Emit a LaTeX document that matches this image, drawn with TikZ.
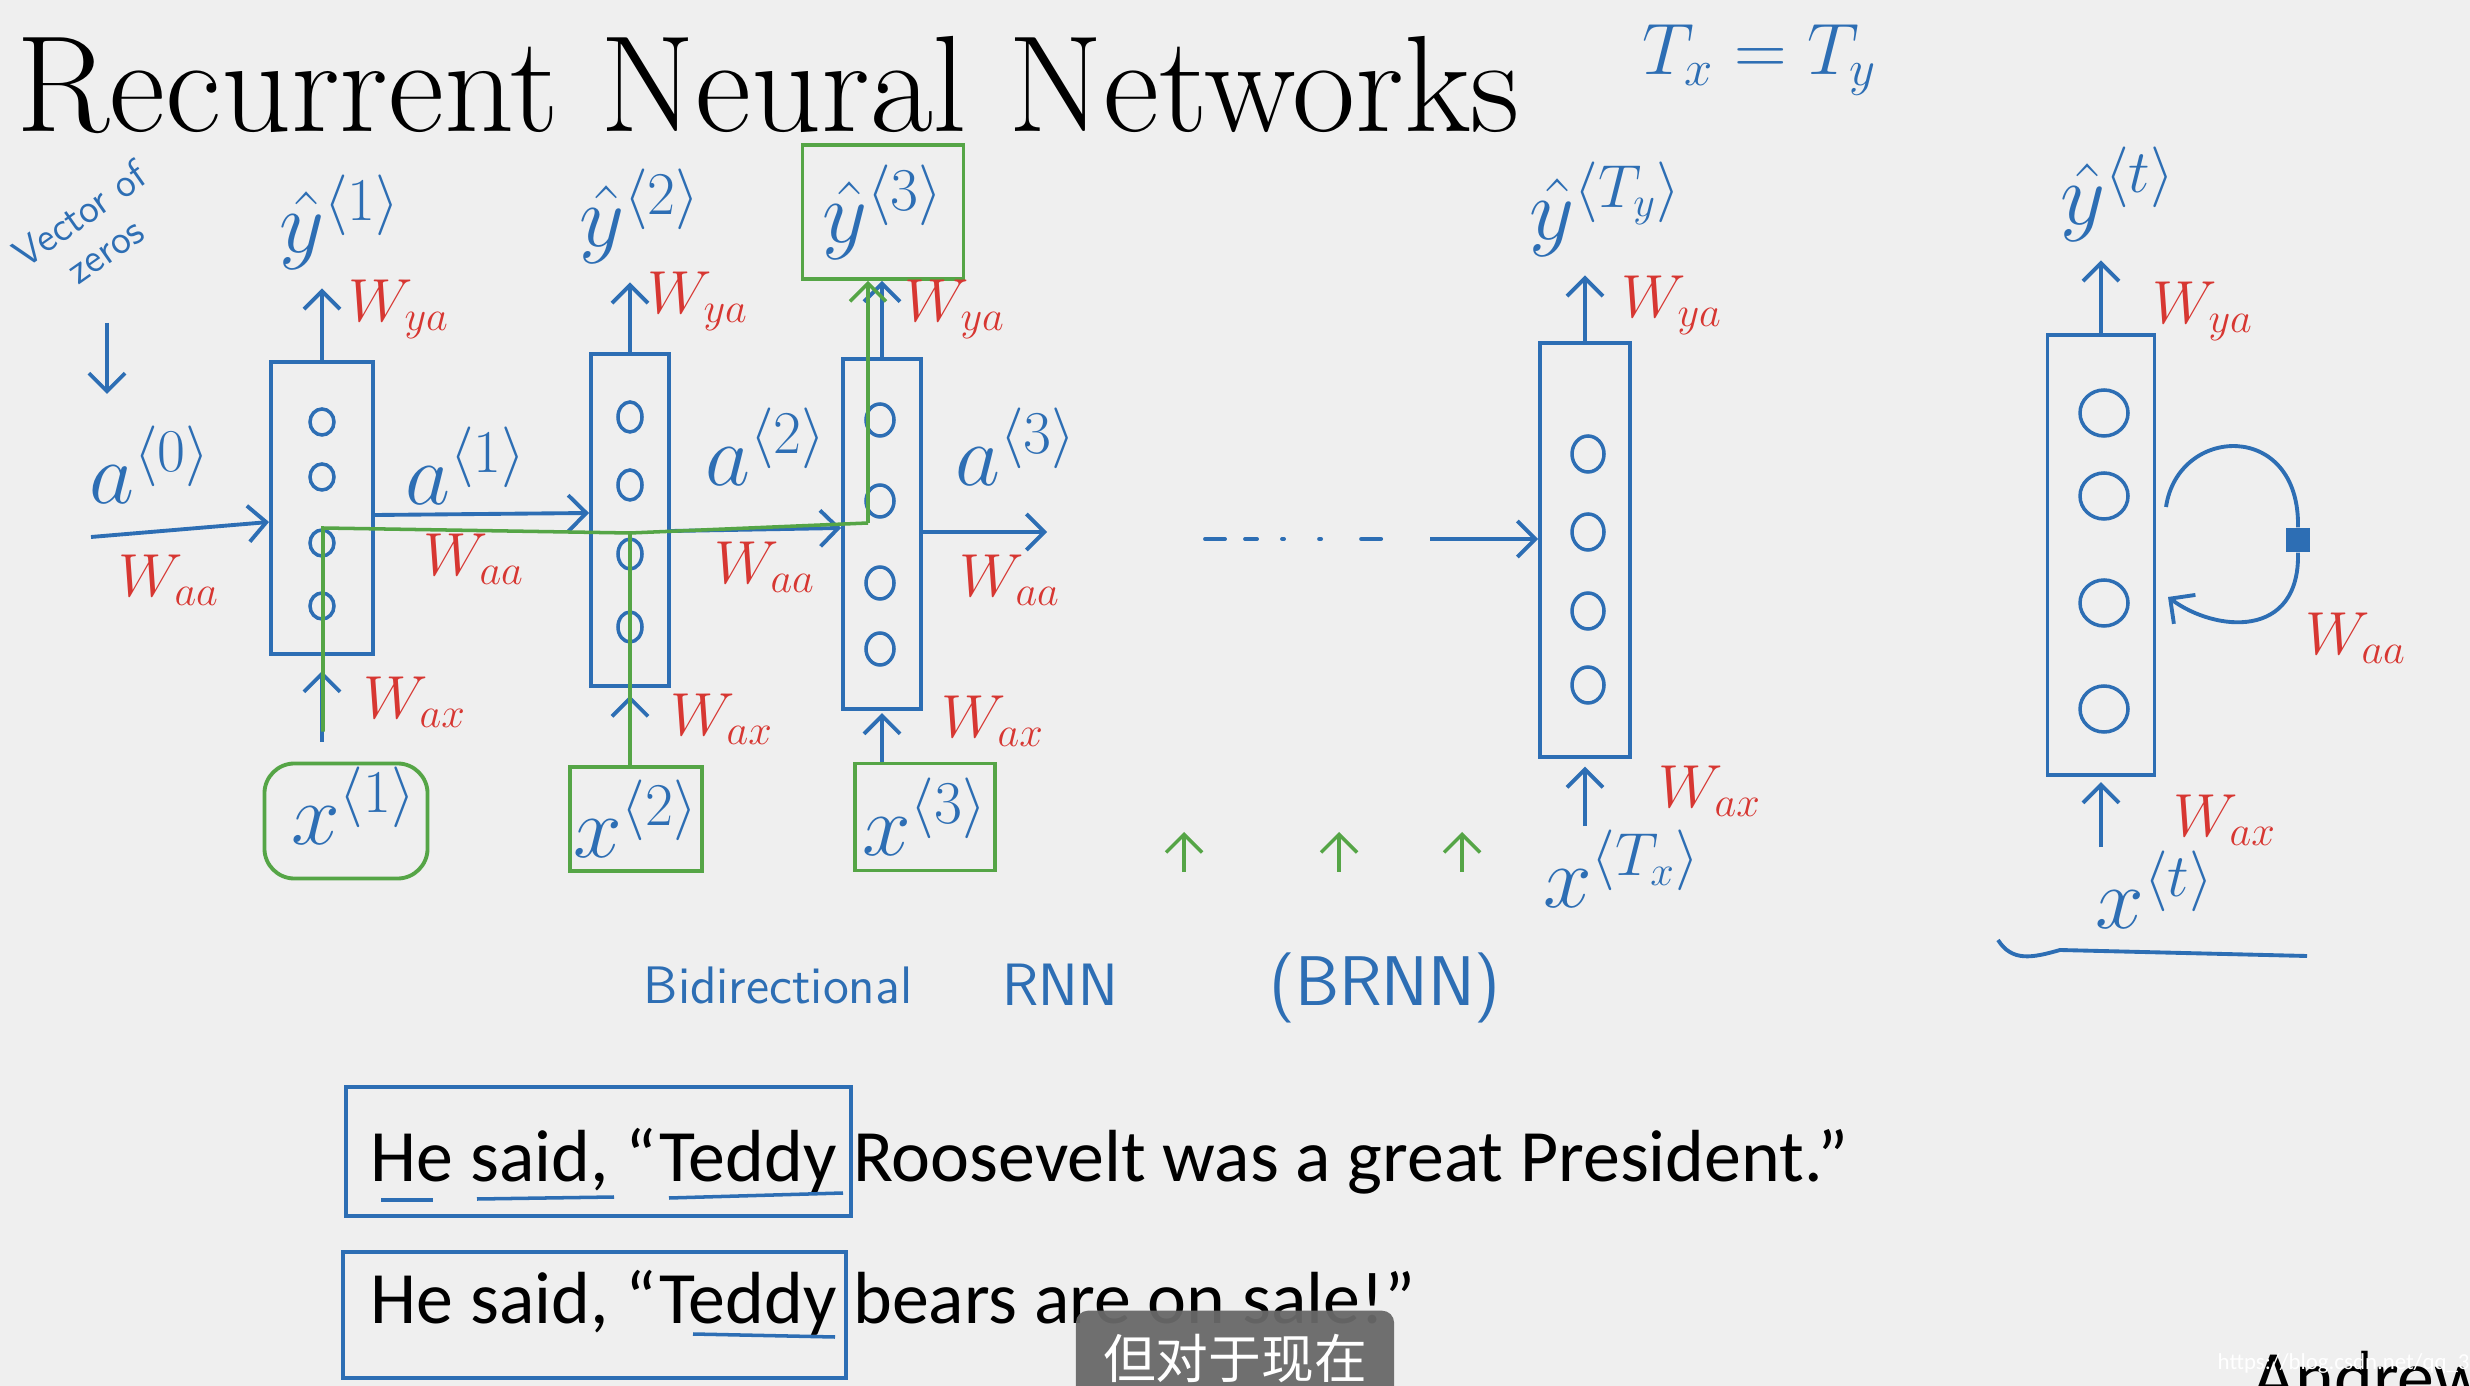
\documentclass[tikz,border=0pt]{standalone}
\usepackage{fontspec}
\newfontfamily\slidefont{Carlito}
\newfontfamily\cjkfont{Noto Sans CJK SC}
\usetikzlibrary{arrows.meta,positioning}

\definecolor{inkblue}{RGB}{45,110,180}
\definecolor{inkred}{RGB}{215,55,50}
\definecolor{inkgreen}{RGB}{85,165,70}
\definecolor{slidebg}{RGB}{239,239,239}
\definecolor{subgray}{RGB}{105,105,105}

\begin{document}
\begin{tikzpicture}[
  x=0.01cm, y=-0.01cm,
  >={Straight Barb[length=1.8mm,width=3.6mm]},
  cell/.style ={draw=inkblue,line width=1.1pt,rectangle},
  unit/.style ={draw=inkblue,line width=1pt},
  lbl/.style  ={text=inkblue,inner sep=1pt,font=\fontsize{24}{26}\selectfont},
  wlbl/.style ={text=inkred,inner sep=1pt,font=\fontsize{17}{18}\selectfont},
  hand/.style ={text=inkblue,font=\sffamily\fontsize{15}{17}\selectfont},
  gbox/.style ={draw=inkgreen,line width=1.1pt,rectangle},
  wire/.style ={draw=inkblue,line width=1.1pt,->},
  gwire/.style={draw=inkgreen,line width=1pt},
  sent/.style ={font=\slidefont\fontsize{21}{24}\selectfont,inner sep=0pt},
]

\useasboundingbox (0,0) rectangle (2470,1386);
\clip (0,0) rectangle (2470,1386);
\fill[slidebg] (0,0) rectangle (2470,1386);

%% =============================================
%% Title
%% =============================================
\node[anchor=base west,inner sep=0pt,font=\fontsize{39}{42}\selectfont] (title) at (16,132)
  {Recurrent Neural Networks};
\node[lbl,font=\fontsize{22}{24}\selectfont] (txty) at (1760,60) {$T_x = T_y$};

%% =============================================
%% Unrolled cells
%% =============================================
\node[cell,minimum width=1.02cm,minimum height=2.92cm] (c1)  at (322,508)  {};
\node[cell,minimum width=0.78cm,minimum height=3.31cm] (c2)  at (630,520)  {};
\node[cell,minimum width=0.78cm,minimum height=3.50cm] (c3)  at (882,534)  {};
\node[cell,minimum width=0.90cm,minimum height=4.13cm] (cTy) at (1585,550) {};

% folded cell
\node[cell,minimum width=1.07cm,minimum height=4.40cm] (ct)  at (2101,555) {};

% hidden units
\foreach \cx/\rx/\ry/\ys in {322/12/13/{422,477,543,606},
                            630/12/15/{417,485,554,627},
                            880/14/16/{420,501,583,649},
                            1588/16/18/{454,532,611,685},
                            2104/24/23/{413,496,603,709}}
  \foreach \cy in \ys
    \draw[unit] (\cx,\cy) ellipse [x radius=\rx, y radius=\ry];

%% =============================================
%% Outputs
%% =============================================
\node[lbl] (y1)  at (340,222)  {$\hat{y}^{\langle 1\rangle}$};
\node[lbl] (y2)  at (640,216)  {$\hat{y}^{\langle 2\rangle}$};
\node[gbox,lbl,minimum width=1.61cm,minimum height=1.34cm] (gy3) at (883,212)
  {$\hat{y}^{\langle 3\rangle}$};
\node[lbl] (yTy) at (1606,209) {$\hat{y}^{\langle T_y\rangle}$};
\node[lbl] (yt)  at (2118,194) {$\hat{y}^{\langle t\rangle}$};

\draw[wire,shorten >=0.15cm] (c1.north)  -- (c1.north |- y1.south);
\draw[wire,shorten >=0.15cm] (c2.north)  -- (c2.north |- y2.south);
\draw[wire]                  (c3.north)  -- (c3.north |- gy3.south);
\draw[wire,shorten >=0.15cm] (cTy.north) -- (cTy.north |- yTy.south);
\draw[wire,shorten >=0.15cm] (ct.north)  -- (ct.north |- yt.south);

\node[wlbl] (wya1)  at (399,309)  {$W_{ya}$};
\node[wlbl] (wya2)  at (698,301)  {$W_{ya}$};
\node[wlbl] (wya3)  at (955,309)  {$W_{ya}$};
\node[wlbl] (wyaTy) at (1672,305) {$W_{ya}$};
\node[wlbl] (wyat)  at (2203,311) {$W_{ya}$};

%% =============================================
%% Activations
%% =============================================
\node[hand,font=\sffamily\fontsize{11.5}{12.5}\selectfont,rotate=35,align=center] (vz) at (92,232)
  {Vector of\\zeros};
\coordinate (zeroS) at (107,323);
\coordinate (zeroE) at (107,394);
\draw[wire] (zeroS) -- (zeroE);

\node[lbl] (a0) at (150,465)  {$a^{\langle 0\rangle}$};
\node[lbl] (a1) at (466,466)  {$a^{\langle 1\rangle}$};
\node[lbl] (a2) at (766,447)  {$a^{\langle 2\rangle}$};
\node[lbl] (a3) at (1016,447) {$a^{\langle 3\rangle}$};

\coordinate (a0in)  at (91,537);
\coordinate (a3end) at (1047,532);
\draw[wire] (a0in) -- ([yshift=-0.14cm]c1.west);
\draw[wire] ([yshift=-0.07cm]c1.east) -- ([yshift=0.07cm]c2.west);
\draw[wire] ([yshift=-0.11cm]c2.east) -- ([yshift=0.06cm]c3.west);
\draw[wire] ([yshift=0.02cm]c3.east) -- (a3end);

% dots towards the last step
\coordinate (dotsL) at (1205,539);
\coordinate (dotsR) at (1385,539);
\draw[inkblue,line width=1.1pt,line cap=round,
      dash pattern=on 0.2cm off 0.2cm on 0.12cm off 0.25cm on 0.02cm off 0.35cm on 0.02cm off 0.4cm]
  (dotsL) -- (dotsR);
\coordinate (aTyin) at (1430,539);
\draw[wire] (aTyin) -- (cTy.west |- aTyin);

\node[wlbl] (waa0) at (169,580)  {$W_{aa}$};
\node[wlbl] (waa1) at (474,559)  {$W_{aa}$};
\node[wlbl] (waa2) at (765,567)  {$W_{aa}$};
\node[wlbl] (waa3) at (1010,580) {$W_{aa}$};

% recurrence on folded cell
\node[fill=inkblue,minimum size=0.24cm,inner sep=0pt] (delay) at (2298,540) {};
\coordinate (loopS) at (2166,507);
\coordinate (loopE) at (2168,597);
\draw[inkblue,line width=1.1pt] (loopS) .. controls (2178,425) and (2300,420) .. (delay.north);
\draw[wire] (delay.south) .. controls (2300,640) and (2215,632) .. (loopE);
\node[wlbl] (waat) at (2356,638) {$W_{aa}$};

%% =============================================
%% Inputs
%% =============================================
\node[gbox,rounded corners=0.3cm,minimum width=1.63cm,minimum height=1.15cm] (gx1) at (346,821) {};
\node[lbl] (x1) at (354,806) {$x^{\langle 1\rangle}$};
\node[gbox,lbl,minimum width=1.29cm,minimum height=1.04cm] (gx2) at (636,819)
  {$x^{\langle 2\rangle}$};
\node[gbox,lbl,minimum width=1.40cm,minimum height=1.07cm] (gx3) at (925,817)
  {$x^{\langle 3\rangle}$};
\node[lbl] (xTx) at (1622,869) {$x^{\langle T_x\rangle}$};
\node[lbl] (xt)  at (2155,890) {$x^{\langle t\rangle}$};

\draw[wire,shorten <=0.2cm,shorten >=0.15cm] (gx1.north -| c1.south) -- (c1.south);
\draw[wire,shorten >=0.08cm] (gx2.north -| c2.south) -- (c2.south);
\draw[wire,shorten >=0.02cm] (gx3.north -| c3.south) -- (c3.south);
\draw[wire,shorten >=0.08cm] (xTx.north -| cTy.south) -- (cTy.south);
\draw[wire,shorten >=0.05cm] (xt.north -| ct.south) -- (ct.south);

\node[wlbl] (wax1)  at (415,702)  {$W_{ax}$};
\node[wlbl] (wax2)  at (722,719)  {$W_{ax}$};
\node[wlbl] (wax3)  at (993,721)  {$W_{ax}$};
\node[wlbl] (waxTy) at (1710,791) {$W_{ax}$};
\node[wlbl] (waxt)  at (2225,820) {$W_{ax}$};

% underline below folded cell
\draw[inkblue,line width=1.1pt] (1998,940) .. controls (2012,962) and (2032,958) .. (2060,950) -- (2307,956);

%% =============================================
%% Path through the first three steps
%% =============================================
\coordinate (g1) at (323,528);
\coordinate (g2) at (630,533);
\coordinate (g3) at (868,523);
\draw[gwire,shorten <=0.3cm] (gx1.north -| g1) -- (g1) -- (g2) -- (g3);
\draw[gwire] (gx2.north -| g2) -- (g2);
\draw[gwire,->] (g3) -- (gy3.south -| g3);

\foreach \gx in {1184,1339,1462}
  \draw[gwire,->] (\gx,872) -- (\gx,832);

%% =============================================
%% Bidirectional RNN
%% =============================================
\node[hand] (bidir) at (778,985)  {Bidirectional};
\node[hand,font=\sffamily\fontsize{17}{19}\selectfont] (rnn)  at (1060,985) {RNN};
\node[hand,font=\sffamily\fontsize{20}{22}\selectfont] (brnn) at (1385,988) {(BRNN)};

%% =============================================
%% Example sentences
%% =============================================
\node[sent,anchor=base west] (s1) at (370,1181)
  {He said, “Teddy Roosevelt was a great President.”};
\node[sent,anchor=base west] (s2) at (370,1323)
  {He said, “Teddy bears are on sale!”};

\draw[inkblue,line width=1pt] (346,1087) rectangle (851,1216);
\draw[inkblue,line width=1pt] (343,1252) rectangle (846,1378);
\draw[inkblue,line width=1pt] (381,1200) -- (433,1200);
\draw[inkblue,line width=1pt] (477,1199) -- (614,1197);
\draw[inkblue,line width=1pt] (669,1198) -- (843,1193);
\draw[inkblue,line width=1pt] (693,1334) -- (835,1337);

%% =============================================
%% Footer
%% =============================================
\node[fill=subgray,fill opacity=0.95,text opacity=1,text=white,rounded corners=0.12cm,
      minimum width=3.18cm,minimum height=0.95cm,anchor=north,
      font=\cjkfont\fontsize{15}{16}\selectfont] (sub) at (1235,1310) {但对于现在};
\node[sent,anchor=base west] (author) at (2252,1402) {Andrew Ng};
\node[anchor=west,text=white,inner sep=0pt,font=\slidefont\fontsize{6.5}{7}\selectfont] (wm)
  at (2217,1364) {https://blog.csdn.net/qq\_39317214};

\end{tikzpicture}
\end{document}
